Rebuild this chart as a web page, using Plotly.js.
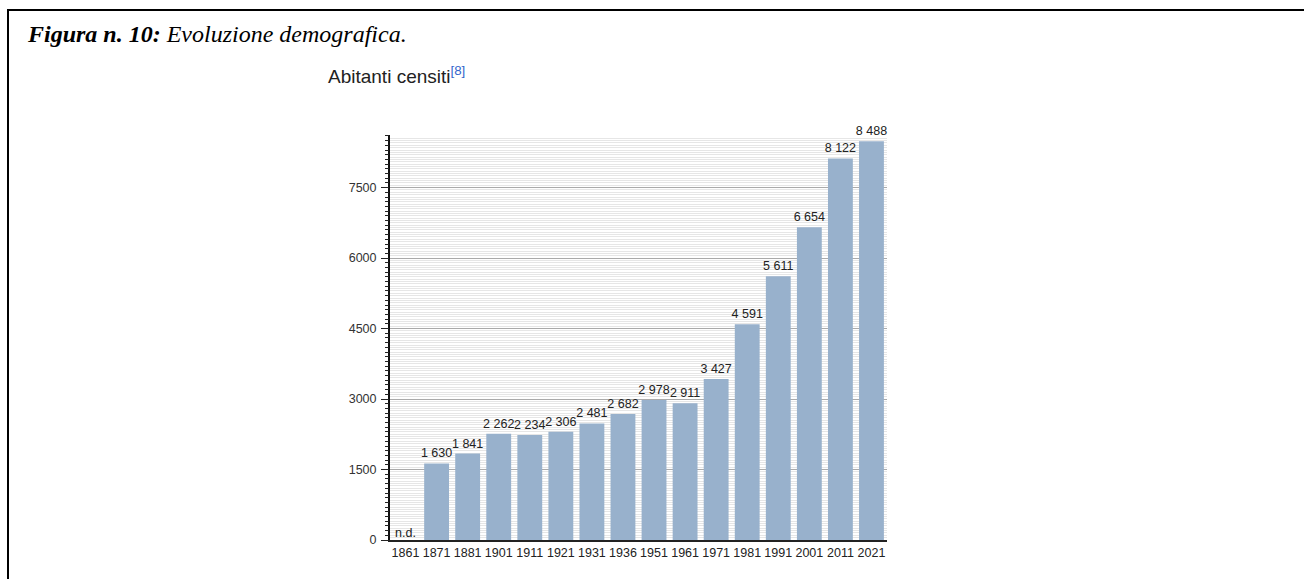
<!DOCTYPE html>
<html><head><meta charset="utf-8">
<script src="https://cdn.plot.ly/plotly-3.0.1.min.js"></script>
<style>
html,body{margin:0;padding:0;background:#fff;}
#frame{position:absolute;left:7px;top:9px;width:1400px;height:700px;border-top:2px solid #000;border-left:2px solid #000;}
#chart{position:absolute;left:0;top:0;width:1304px;height:579px;}
</style></head>
<body>
<div id="frame"></div>
<div id="chart"></div>
<script>
const years = ['1861','1871','1881','1901','1911','1921','1931','1936','1951','1961','1971','1981','1991','2001','2011','2021'];
const population = [null,1630,1841,2262,2234,2306,2481,2682,2978,2911,3427,4591,5611,6654,8122,8488];
const missingLabel = 'n.d.';
const yTicks = [0,1500,3000,4500,6000,7500];

const missingYears = years.filter((y,i)=>population[i]===null);

const bars = {
  type:'bar', x: years, y: population,
  marker:{color:'#98b1cc'},
  texttemplate:'%{y:,}', textposition:'outside', cliponaxis:false, constraintext:'none',
  textfont:{family:'Liberation Sans, Arial, sans-serif', size:12.5, color:'#222'},
  hoverinfo:'x+y'
};
const nd = {
  type:'scatter', mode:'text',
  x: missingYears, y: missingYears.map(()=>0), text: missingYears.map(()=>missingLabel),
  textposition:'top center',
  textfont:{family:'Liberation Sans, Arial, sans-serif', size:12.5, color:'#222'},
  cliponaxis:false, hoverinfo:'skip'
};
const tickTrace = {type:'scatter', x:[years[0]], y:[0], yaxis:'y2', mode:'none', hoverinfo:'skip', showlegend:false};

const yRange=[0,8620];
const layout = {
  width:1304, height:579,
  margin:{l:390, r:417, t:135, b:39},
  paper_bgcolor:'rgba(0,0,0,0)', plot_bgcolor:'#fff',
  showlegend:false, bargap:0.2,
  separators:'. ',
  font:{family:'Liberation Sans, Arial, sans-serif', size:11, color:'#222'},
  xaxis:{type:'category', range:[-0.5, years.length-0.5], showgrid:false, showline:true, linecolor:'#222', linewidth:2,
         ticks:'', tickfont:{family:'Liberation Sans, Arial, sans-serif', size:12.5,color:'#222'}, fixedrange:true},
  yaxis:{range:yRange, tickvals:yTicks, showgrid:true, gridcolor:'#aaaaaa', gridwidth:1,
         showline:true, linecolor:'#111', linewidth:2, zeroline:false,
         ticks:'outside', ticklen:7, tickcolor:'#222', tickwidth:1,
         tickfont:{size:12.5,color:'#333'}, ticklabelstandoff:2,
         minor:{dtick:50, tick0:0, showgrid:true, gridcolor:'#e6e6e6', gridwidth:1, ticks:''}},
  yaxis2:{overlaying:'y', side:'left', range:yRange, showgrid:false, showticklabels:false,
          zeroline:false, showline:false, tick0:0, dtick:100, ticks:'outside', ticklen:4, tickcolor:'#222', tickwidth:1},
  annotations:[
    {xref:'paper', yref:'paper', x:-(390-25)/497, y:1+(135-34)/405, xanchor:'left', yanchor:'middle', showarrow:false,
     text:'<b><i>Figura n. 10:</i></b><i> Evoluzione demografica.</i>',
     font:{family:'Liberation Serif, Times New Roman, serif', size:24, color:'#000'}},
    {xref:'paper', yref:'paper', x:-(390-326)/497, y:1+(135-75)/405, xanchor:'left', yanchor:'middle', showarrow:false,
     text:'Abitanti censiti<sup><span style="color:#3366cc">[8]</span></sup>',
     font:{family:'Liberation Sans, Arial, sans-serif', size:19, color:'#222'}}
  ]
};
Plotly.newPlot('chart',[bars,nd,tickTrace],layout,{displayModeBar:false,staticPlot:true});
</script>
</body></html>
